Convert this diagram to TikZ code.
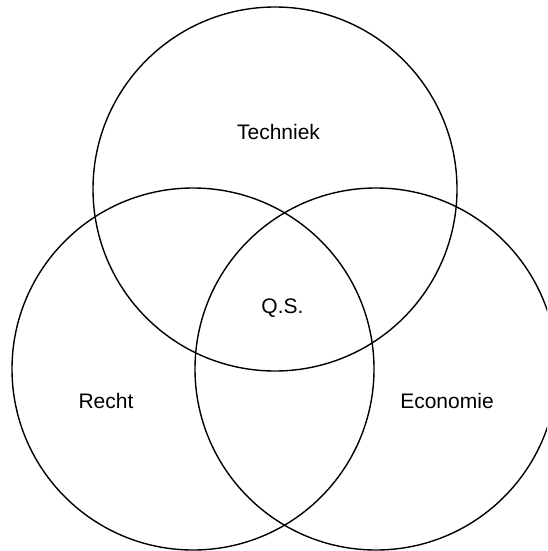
\documentclass[tikz,border=0pt]{standalone}
\usepackage{fontspec}
\setmainfont{Liberation Sans}
\begin{document}
\begin{tikzpicture}[x=1pt,y=-1pt,
  venn/.style={draw=black,line width=1.4pt},
  lbl/.style={font=\fontsize{21}{24}\selectfont,anchor=base,inner sep=0pt}]
\useasboundingbox (0,0) rectangle (547,551);
\begin{scope}
\clip (0,0) rectangle (547,551);
\draw[venn] (275,189) circle[radius=182];
\draw[venn] (193,369) circle[radius=181];
\draw[venn] (376,369) circle[radius=181];
\end{scope}
\node[lbl] (t) at (278.5,139) {Techniek};
\node[lbl] (q) at (282.5,313) {Q.S.};
\node[lbl] (r) at (106,408) {Recht};
\node[lbl] (e) at (447,408) {Economie};
\end{tikzpicture}
\end{document}
